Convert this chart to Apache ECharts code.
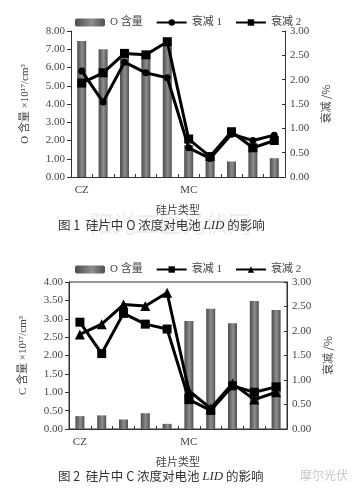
<!DOCTYPE html>
<html>
<head>
<meta charset="utf-8">
<script src="https://cdn.jsdelivr.net/npm/echarts@6/dist/echarts.min.js"></script>
<style>
html,body{margin:0;padding:0;background:#fff;}
#c1,#c2{position:absolute;left:0;width:364px;height:247px;}
#c1{top:0;} #c2{top:247px;}
</style>
</head>
<body>
<div id="c1"></div>
<div id="c2"></div>
<script>
// ---- data ----
const categories = ['1','2','3','4','5','6','7','8','9','10'];
const xLabels = ['CZ','','','','','MC','','','',''];
const oContent = [7.45, 7.0, 6.85, 6.8, 7.3, 1.75, 1.1, 0.85, 1.8, 1.03];
const cContent = [0.35, 0.37, 0.26, 0.43, 0.14, 2.94, 3.27, 2.88, 3.48, 3.24];
const decay1 = [2.18, 1.54, 2.36, 2.14, 2.04, 0.60, 0.38, 0.88, 0.75, 0.86];
const decay2 = [1.93, 2.14, 2.54, 2.51, 2.78, 0.78, 0.42, 0.93, 0.60, 0.75];
const legendNames = ['O 含量', '衰减 1', '衰减 2'];
const oTicks = {min: 0, max: 8, interval: 1};
const cTicks = {min: 0, max: 4, interval: 0.5};
const decayTicks = {min: 0, max: 3, interval: 0.5};

const SERIF = '"Liberation Serif","Noto Sans CJK SC",serif';
const TXT = '#444';
const barGrad = new echarts.graphic.LinearGradient(0,0,1,0,[
  {offset:0,color:'#4c4c4c'},{offset:0.55,color:'#8e8e8e'},{offset:1,color:'#505050'}]);

function build(el, cfg) {
  const chart = echarts.init(document.getElementById(el), null, {renderer:'canvas'});
  const axisLine = {show:true, lineStyle:{color:'#333', width:1}};
  const option = {
    animation:false,
    textStyle:{fontFamily:SERIF, color:TXT},
    legend:{
      top: cfg.legendTop, left: 70, itemGap: 13, itemWidth: 30, itemHeight: 8,
      textStyle:{fontFamily:SERIF, fontSize:11, color:TXT},
      data: legendNames
    },
    grid:{left:cfg.left, right:cfg.right, top:cfg.top, height:cfg.height,
      show: cfg.border, borderColor:'#333', borderWidth:1, backgroundColor:'transparent'},
    xAxis:{
      type:'category', data:categories,
      axisLine:axisLine,
      axisTick:{show:true, inside:true, length:3, lineStyle:{color:'#333'}},
      axisLabel:{interval:0, formatter:(v,i)=>xLabels[i], fontFamily:SERIF, fontSize:11, color:TXT, margin:8},
      name:'硅片类型', nameLocation:'middle', nameGap:27,
      nameTextStyle:{fontFamily:'"Noto Sans CJK SC"', fontSize:11, color:TXT}
    },
    yAxis:[
      {type:'value', min:cfg.leftTicks.min, max:cfg.leftTicks.max, interval:cfg.leftTicks.interval,
        position:'left', axisLine:axisLine,
        axisTick:{show:true, length:4, lineStyle:{color:'#333'}},
        splitLine:{show:false},
        axisLabel:{formatter:v=>v.toFixed(2), fontFamily:SERIF, fontSize:11, color:TXT, margin:6},
        name:cfg.leftName, nameLocation:'middle', nameGap:40, nameRotate:90,
        nameTextStyle:{fontFamily:SERIF, fontSize:11, color:TXT}},
      {type:'value', min:decayTicks.min, max:decayTicks.max, interval:decayTicks.interval,
        position:'right', axisLine:axisLine,
        axisTick:{show:true, inside:true, length:3, lineStyle:{color:'#333'}},
        splitLine:{show:false},
        axisLabel:{formatter:v=>v.toFixed(2), fontFamily:SERIF, fontSize:11, color:TXT, margin:5},
        name:'衰减 /%', nameLocation:'middle', nameGap:27, nameRotate:90,
        nameTextStyle:{fontFamily:'"Noto Sans CJK SC"', fontSize:11, color:TXT}}
    ],
    series:[
      {name:'O 含量', type:'bar', yAxisIndex:0, data:cfg.bars, barWidth:9,
        itemStyle:{color:barGrad}, z:1},
      {name:'衰减 1', type:'line', yAxisIndex:1, data:decay1, symbol:cfg.sym1, symbolSize:cfg.size1,
        lineStyle:{color:'#000', width:3}, itemStyle:{color:'#000'}, z:3},
      {name:'衰减 2', type:'line', yAxisIndex:1, data:decay2, symbol:cfg.sym2, symbolSize:cfg.size2,
        lineStyle:{color:'#000', width:3}, itemStyle:{color:'#000'}, z:3}
    ],
    graphic: cfg.graphic
  };
  chart.setOption(option);
}

build('c1', {
  legendTop: 12, left:71, right:79, top:31, height:146, border:false,
  leftTicks:oTicks, bars:oContent, leftName:'O 含量 ×10¹⁷/cm³',
  sym1:'circle', size1:7, sym2:'rect', size2:9,
  graphic:[
    {type:'text', left:90, top:212, z:0, silent:true,
      style:{text:'阳光工匠光伏网', fontFamily:'"Noto Sans CJK SC"', fontSize:23, fill:'#ececec'}},
    {type:'text', left:58, top:219, z:5,
      style:{text:'{a|图 1  硅片中 O 浓度对电池 }{b|LID}{a| 的影响}',
        rich:{a:{fontFamily:'"Noto Sans CJK SC"', fontSize:12.5, fill:'#333'},
              b:{fontFamily:SERIF, fontStyle:'italic', fontSize:13, fill:'#333'}}}}
  ]
});

build('c2', {
  legendTop: 12, left:69, right:77, top:35, height:147, border:true,
  leftTicks:cTicks, bars:cContent, leftName:'C 含量 ×10¹⁷/cm³',
  sym1:'rect', size1:9, sym2:'triangle', size2:10,
  graphic:[
    {type:'text', left:58, top:223, z:5,
      style:{text:'{a|图 2  硅片中 C 浓度对电池 }{b|LID}{a| 的影响}',
        rich:{a:{fontFamily:'"Noto Sans CJK SC"', fontSize:12.5, fill:'#333'},
              b:{fontFamily:SERIF, fontStyle:'italic', fontSize:13, fill:'#333'}}}},
    {type:'text', left:300, top:222, z:5,
      style:{text:'摩尔光伏', fontFamily:'"Noto Sans CJK SC"', fontSize:12, fill:'#c8c8c8'}}
  ]
});
</script>
</body>
</html>
